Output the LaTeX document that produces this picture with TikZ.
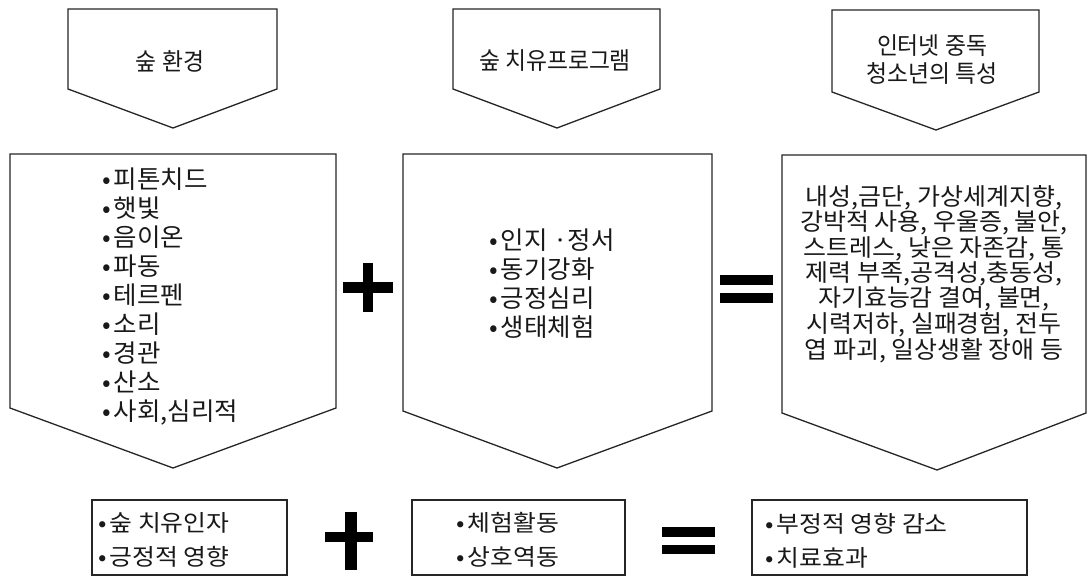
\documentclass[tikz,border=0pt]{standalone}
\usepackage{fontspec}
\newfontfamily\krtop[FakeStretch=0.95]{Noto Sans CJK KR}
\newfontfamily\krmid[FakeStretch=1.02]{Noto Sans CJK KR}
\newfontfamily\krright[FakeStretch=1.04]{Noto Sans CJK KR}
\newfontfamily\krbot[FakeStretch=1.08]{Noto Sans CJK KR}
\newcommand{\bul}{•\hspace{3pt}}
\tikzset{
  shapeline/.style={draw=black!85, line width=1.3pt, fill=white},
  sign/.style={fill=black, draw=none},
  toplabel/.style={inner sep=0pt, align=center, text=black!90, font=\krtop\fontsize{24}{28}\selectfont},
  midlist/.style={inner sep=0pt, align=left, anchor=west, text=black!90, font=\krmid\fontsize{25}{29.1}\selectfont},
  rightlist/.style={inner sep=0pt, align=center, text=black!90, font=\krright\fontsize{24}{23}\selectfont},
  botlist/.style={inner sep=0pt, align=left, anchor=west, text=black!90, font=\krbot\fontsize{23}{33.5}\selectfont},
}
\begin{document}
\begin{tikzpicture}[x=1pt,y=-1pt]
\useasboundingbox (0,0) rectangle (1088,578);
\fill[white] (0,0) rectangle (1088,578);

% top pentagons
\draw[shapeline] (68,9) -- (277,9) -- (277,89) -- (173,128) -- (68,89) -- cycle;
\draw[shapeline] (453,9) -- (660,9) -- (660,89) -- (557,128) -- (453,89) -- cycle;
\draw[shapeline] (832,10) -- (1039,10) -- (1039,92) -- (936,130) -- (832,92) -- cycle;
\node[toplabel] (t1) at (170,61) {숲 환경};
\node[toplabel] (t2) at (555,61) {숲 치유프로그램};
\node[toplabel] (t3) at (932,60) {인터넷 중독\\청소년의 특성};

% middle pentagons
\draw[shapeline] (10,154) -- (336,154) -- (336,408) -- (173,468) -- (10,408) -- cycle;
\draw[shapeline] (403,154) -- (712,154) -- (712,411) -- (557,468) -- (403,411) -- cycle;
\draw[shapeline] (782,155) -- (1086,155) -- (1086,413) -- (937,470) -- (782,413) -- cycle;

\node[midlist] (m1) at (102,296.5) {\bul 피톤치드\\\bul 햇빛\\\bul 음이온\\\bul 파동\\\bul 테르펜\\\bul 소리\\\bul 경관\\\bul 산소\\\bul 사회,심리적};
\node[midlist] (m2) at (489,283.5) {\bul 인지 ·정서\\\bul 동기강화\\\bul 긍정심리\\\bul 생태체험};
\node[rightlist] (m3) at (934,274) {내성,금단, 가상세계지향,\\강박적 사용, 우울증, 불안,\\스트레스, 낮은 자존감, 통\\제력 부족,공격성,충동성,\\자기효능감 결여, 불면,\\시력저하, 실패경험, 전두\\엽 파괴, 일상생활 장애 등};

% middle signs
\fill[sign] (343,282) rectangle (393,293);
\fill[sign] (363,263) rectangle (373,312);
\fill[sign] (720,275) rectangle (773,285);
\fill[sign] (720,293) rectangle (773,303);

% bottom boxes
\draw[shapeline] (92,500) rectangle (287,575);
\draw[shapeline] (412,500) rectangle (625,575);
\draw[shapeline] (752,500) rectangle (1027,575);
\node[botlist] (b1) at (98,540) {\bul 숲 치유인자\\\bul 긍정적 영향};
\node[botlist] (b2) at (456,540) {\bul 체험활동\\\bul 상호역동};
\node[botlist] (b3) at (765,541) {\bul 부정적 영향 감소\\\bul 치료효과};

% bottom signs
\fill[sign] (325,532) rectangle (373,542);
\fill[sign] (345,512) rectangle (357,570);
\fill[sign] (662,527) rectangle (715,537);
\fill[sign] (662,545) rectangle (715,554);
\end{tikzpicture}
\end{document}
